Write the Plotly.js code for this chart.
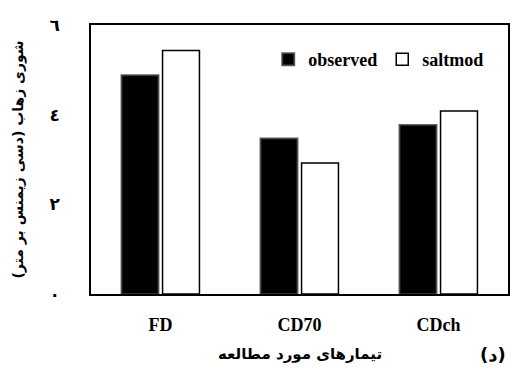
<!DOCTYPE html>
<html><head><meta charset="utf-8">
<script src="https://cdn.plot.ly/plotly-3.0.1.min.js"></script>
<style>html,body{margin:0;padding:0;background:#fff}</style>
</head><body><div id="chart" style="width:512px;height:370px"></div>
<script>
const categories = ["FD", "CD70", "CDch"];
const observed = [4.88, 3.47, 3.77];
const saltmod = [5.43, 2.92, 4.08];
const yTickVals = [0, 2, 4, 6];
const yTickText = ["٠", "٢", "٤", "٦"];

const serif = "Times New Roman";
const arab = "DejaVu Sans";

const data = [
  {type: "bar", name: "<b>observed</b>", x: categories, y: observed,
   marker: {color: "#000", line: {color: "rgba(60,60,60,0.8)", width: 2}}},
  {type: "bar", name: "<b>saltmod</b>", x: categories, y: saltmod,
   marker: {color: "#fff", line: {color: "#000", width: 1.5}}}
];

const layout = {
  width: 512, height: 370,
  margin: {l: 91, r: 4, t: 25, b: 76},
  paper_bgcolor: "#fff", plot_bgcolor: "#fff",
  barmode: "group", bargap: 0.41, bargroupgap: 0.1,
  showlegend: true,
  legend: {orientation: "h", x: 0.955, xanchor: "right", y: 0.94, yanchor: "top",
    font: {family: serif, size: 18, color: "#000"},
    bgcolor: "rgba(0,0,0,0)", itemwidth: 30, tracegroupgap: 0},
  xaxis: {showline: true, linecolor: "#000", linewidth: 1.5, mirror: true,
    showgrid: false, zeroline: false, ticks: "",
    ticktext: categories.map(c => "<b>" + c + "</b>"), tickvals: categories,
    ticklabelstandoff: 14,
    tickfont: {family: serif, size: 18, color: "#000"}},
  yaxis: {range: [0, 6], showline: true, linecolor: "#000", linewidth: 1.5, mirror: true,
    showgrid: false, zeroline: false, ticks: "",
    tickvals: yTickVals, ticktext: yTickText.map(t => "<b>" + t + "</b>"), ticklabelstandoff: 26,
    tickfont: {family: arab, size: 17, color: "#000"}},
  annotations: [
    {text: "<b>(د)</b>", xref: "paper", yref: "paper", x: 1.0, y: -0.225,
     xanchor: "right", yanchor: "middle", showarrow: false,
     font: {family: arab, size: 18, color: "#000"}},
    {text: "<b>تیمارهای مورد مطالعه</b>", xref: "paper", yref: "paper", x: 0.5, y: -0.222,
     xanchor: "center", yanchor: "middle", showarrow: false,
     font: {family: arab, size: 15, color: "#000"}},
    {text: "<b>شوری زهاب (دسی زیمنس بر متر)</b>", xref: "paper", yref: "paper", x: -0.175, y: 0.5,
     xanchor: "center", yanchor: "middle", textangle: -90, showarrow: false,
     font: {family: arab, size: 14, color: "#000"}}
  ]
};

Plotly.newPlot("chart", data, layout, {displayModeBar: false});
</script></body></html>
